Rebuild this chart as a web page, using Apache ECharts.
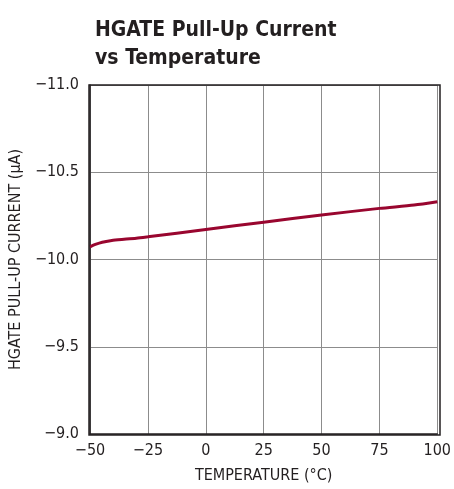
<!DOCTYPE html>
<html><head><meta charset="utf-8">
<script src="https://cdn.jsdelivr.net/npm/echarts@6/dist/echarts.min.js"></script>
<style>html,body{margin:0;padding:0;background:#fff}#c{width:454px;height:489px}</style>
</head><body><div id="c"></div>
<script>
var temps = [-50, -48, -46, -43, -40, -30, -25, 0, 25, 50, 75, 90, 100];
var current = [-10.072, -10.085, -10.094, -10.103, -10.110, -10.122, -10.130, -10.172, -10.214, -10.255, -10.293, -10.312, -10.331];
var xTicks = [-50, -25, 0, 25, 50, 75, 100];
var yTicks = [-11.0, -10.5, -10.0, -9.5, -9.0];
var FONT = '"Liberation Sans Narrow", "DejaVu Sans Condensed", "Liberation Sans", sans-serif';
function fmtMinus(s){ return String(s).replace('-', '\u2212'); }
var chart = echarts.init(document.getElementById('c'), null, {renderer:'canvas'});
chart.setOption({
  animation:false,
  title:{
    text:'HGATE Pull-Up Current\nvs Temperature',
    left:90, top:12,
    textStyle:{fontFamily:FONT, fontWeight:'bold', fontSize:21, lineHeight:28, color:'#231f20'}
  },
  grid:{left:89, right:14, top:85, bottom:54, containLabel:false},
  xAxis:{
    type:'value', min:-50, max:100, interval:25,
    name:'TEMPERATURE (°C)', nameLocation:'middle', nameGap:34,
    nameTextStyle:{fontFamily:FONT, fontSize:16, color:'#231f20'},
    axisLine:{show:true, onZero:false, lineStyle:{color:'#231f20', width:1.5}},
    axisTick:{show:false},
    axisLabel:{fontFamily:FONT, fontSize:16, color:'#231f20', margin:9,
      formatter:function(v){ return fmtMinus(v); }},
    splitLine:{show:true, lineStyle:{color:'#8c8c8c', width:1}}
  },
  yAxis:{
    type:'value', min:-11, max:-9, interval:0.5, inverse:true,
    name:'HGATE PULL-UP CURRENT (µA)', nameLocation:'middle', nameGap:64, nameRotate:90,
    nameTextStyle:{fontFamily:FONT, fontSize:16, color:'#231f20'},
    axisLine:{show:true, onZero:false, lineStyle:{color:'#231f20', width:1.5}},
    axisTick:{show:false},
    axisLabel:{fontFamily:FONT, fontSize:16, color:'#231f20', margin:11,
      formatter:function(v){ return fmtMinus(v.toFixed(1)); }},
    splitLine:{show:true, lineStyle:{color:'#8c8c8c', width:1}}
  },
  series:[{
    type:'line', smooth:0.25, symbol:'none', clip:true,
    lineStyle:{color:'#99062f', width:3},
    data: temps.map(function(t,i){ return [t, current[i]]; })
  }],
  graphic:[{
    type:'rect', shape:{x:89, y:85, width:351, height:350},
    style:{fill:'none', stroke:'#231f20', lineWidth:1.5}, silent:true, z:10
  }]
});
</script></body></html>
